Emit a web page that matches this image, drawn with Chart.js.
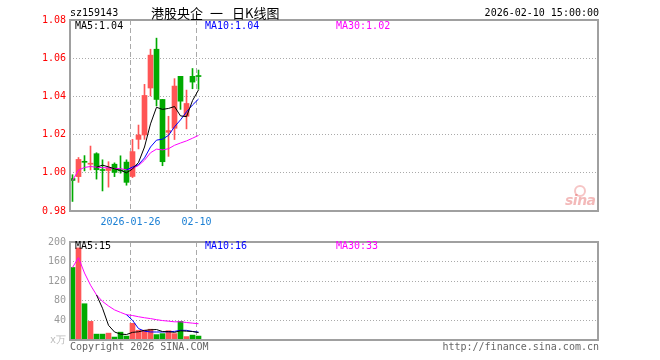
<!DOCTYPE html>
<html>
<head>
<meta charset="utf-8">
<script src="https://cdn.jsdelivr.net/npm/chart.js@4.4.1/dist/chart.umd.min.js"></script>
<style>
  html, body { margin: 0; padding: 0; background: #fff; }
  #wrap { position: relative; width: 660px; height: 360px; overflow: hidden;
          font-family: 'DejaVu Sans Mono', monospace; font-size: 10px; }
  canvas { position: absolute; left: 0; }
  .t { position: absolute; white-space: pre; line-height: 12px; }
  .cjk { position: absolute; white-space: pre; top: 5px; line-height: 16px; font-size: 13px;
         font-family: 'Noto Sans CJK SC'; color: #000; }
</style>
</head>
<body>
<div id="wrap">
  <canvas id="priceChart" width="660" height="232" style="top:0"></canvas>
  <canvas id="volChart" width="660" height="128" style="top:232px"></canvas>

  <div class="t" style="left:70px;top:7px;color:#000">sz159143</div>
  <div class="cjk" style="left:151px">港股央企</div>
  <div class="cjk" style="left:210px">一</div>
  <div class="cjk" style="left:232px">日K线图</div>
  <div class="t" style="right:61px;top:7px;color:#000">2026-02-10 15:00:00</div>

  <div class="t" style="left:75px;top:20px;color:#000">MA5:1.04</div>
  <div class="t" style="left:205px;top:20px;color:#0000ff">MA10:1.04</div>
  <div class="t" style="left:336px;top:20px;color:#ff00ff">MA30:1.02</div>

  <div class="t" style="left:75px;top:240px;color:#000">MA5:15</div>
  <div class="t" style="left:205px;top:240px;color:#0000ff">MA10:16</div>
  <div class="t" style="left:336px;top:240px;color:#ff00ff">MA30:33</div>

  <div class="t" style="left:70px;top:341px;color:#666">Copyright 2026 SINA.COM</div>
  <div class="t" style="right:61px;top:341px;color:#666">http://finance.sina.com.cn</div>

  <div style="position:absolute;left:574px;top:185px;width:8px;height:8px;border:2px solid rgba(230,90,90,0.35);border-radius:50%"></div>
  <div class="t" style="left:565px;top:192px;line-height:14px;font:italic bold 14px 'DejaVu Sans';color:rgba(225,80,80,0.4);letter-spacing:-0.5px">sina</div>
</div>

<script>
// daily candles, 2026-01-12 .. 2026-02-10
const dates = ['2026-01-12', '2026-01-13', '2026-01-14', '2026-01-15', '2026-01-16',
  '2026-01-19', '2026-01-20', '2026-01-21', '2026-01-22', '2026-01-23',
  '2026-01-26', '2026-01-27', '2026-01-28', '2026-01-29', '2026-01-30',
  '2026-02-02', '2026-02-03', '2026-02-04', '2026-02-05', '2026-02-06',
  '2026-02-09', '2026-02-10'];
const opens  = [0.997, 0.998, 1.006, 1.0045, 1.010, 1.0015, 1.0012, 1.0045, 1.0013, 1.0056,
  0.9981, 1.0175, 1.0198, 1.0444, 1.0647, 1.0384, 1.0212, 1.0233, 1.0505, 1.0296, 1.0505, 1.0506];
const closes = [0.996, 1.007, 1.0055, 1.0048, 1.0016, 1.0012, 1.0025, 1.0002, 1.0010, 0.995,
  1.0111, 1.0198, 1.0405, 1.0616, 1.0384, 1.0058, 1.0221, 1.0454, 1.0375, 1.0363, 1.0475, 1.0504];
const highs  = [0.999, 1.008, 1.009, 1.014, 1.0105, 1.0068, 1.0058, 1.0052, 1.0089, 1.0068,
  1.0175, 1.025, 1.0463, 1.0647, 1.0705, 1.0384, 1.0296, 1.0493, 1.0505, 1.0433, 1.0546, 1.0538];
const lows   = [0.985, 0.995, 1.001, 1.0015, 0.9967, 0.9905, 0.9925, 0.998, 0.9998, 0.9935,
  0.9975, 1.0125, 1.0175, 1.0402, 1.035, 1.0037, 1.0086, 1.0174, 1.0332, 1.023, 1.044, 1.0437];

const ma5  = [null, null, null, null, 1.0029, 1.0040, 1.0031, 1.0021, 1.0013, 1.0000,
  1.0020, 1.0054, 1.0135, 1.0256, 1.0343, 1.0332, 1.0337, 1.0347, 1.0298, 1.0294, 1.0378, 1.0434];
const ma10 = [null, null, null, null, null, null, null, null, null, 1.0015,
  1.0030, 1.0043, 1.0078, 1.0135, 1.0171, 1.0176, 1.0196, 1.0241, 1.0277, 1.0319, 1.0355, 1.0386];
const ma30 = [0.996, 1.0014, 1.0028, 1.0033, 1.0029, 1.0027, 1.0026, 1.0023, 1.0022, 1.0015,
  1.0023, 1.0038, 1.0066, 1.0105, 1.0124, 1.0120, 1.0126, 1.0144, 1.0156, 1.0167, 1.0181, 1.0196];

// volume in 万
const volumes = [148, 188, 74, 38, 12, 12, 14, 6, 16, 8, 34, 20, 20, 22, 11, 13, 19, 13, 38, 7, 10, 8];
const volMa5  = [null, null, null, null, 92, 64.8, 30, 16.4, 12, 11.2, 15.6, 16.8, 19.6, 20.8,
  21.4, 17.2, 17, 15.6, 18.8, 18, 17.4, 15.2];
const volMa10 = [null, null, null, null, null, null, null, null, null, 51.6, 40.2, 23.4, 18, 16.4,
  16.3, 16.4, 16.9, 17.6, 19.8, 19.7, 17.3, 16.1];
const volMa30 = [148, 168, 136.7, 112, 92, 78.7, 69.4, 61.5, 56.4, 51.6, 50, 47.5, 45.4, 43.7,
  41.5, 39.7, 38.5, 37.1, 37.2, 35.7, 34.4, 33.2];

const priceTicks = [0.98, 1.00, 1.02, 1.04, 1.06, 1.08];
const volTicks = [0, 40, 80, 120, 160, 200];
const volTickLabels = ['x万', '40', '80', '120', '160', '200'];
const dateTicks = ['2026-01-26', '2026-02-10'];
const dateTickLabels = ['2026-01-26', '02-10'];

const UP = '#ff5555', DOWN = '#00aa00';
const slots = 88;               // the axis has room for 88 days
const xMin = -5 / 12;
const candleColors = closes.map((c, i) => c > opens[i] ? UP : DOWN);
const mono = { family: 'DejaVu Sans Mono', size: 10 };

const frame = {
  id: 'frame',
  afterDraw(chart) {
    const { ctx, chartArea: a } = chart;
    ctx.save();
    ctx.strokeStyle = '#a0a0a0';
    ctx.lineWidth = 2;
    ctx.strokeRect(a.left, a.top, a.right - a.left, a.bottom - a.top);
    ctx.restore();
  }
};

function line(values, color) {
  return {
    type: 'line',
    data: values.map((v, i) => ({ x: i, y: v })).filter(p => p.y !== null),
    borderColor: color,
    borderWidth: 1,
    pointRadius: 0,
    tension: 0,
  };
}

function xScale(showLabels, height) {
  return {
    type: 'linear',
    min: xMin,
    max: xMin + slots,
    offset: false,
    afterBuildTicks: s => { s.ticks = dateTicks.map(d => ({ value: dates.indexOf(d) - 1 / 3 })); },
    afterFit: s => { s.height = height; },
    ticks: {
      display: showLabels,
      autoSkip: false,
      maxRotation: 0,
      padding: 5,
      color: '#1a7fd4',
      font: mono,
      callback: (v, i) => dateTickLabels[i],
    },
    grid: { color: '#aaa', drawTicks: false, offset: false },
    border: { display: false, dash: [5, 3] },
  };
}

function yScale(ticks, labels, color) {
  return {
    type: 'linear',
    min: ticks[0],
    max: ticks[ticks.length - 1],
    afterBuildTicks: s => { s.ticks = ticks.map(v => ({ value: v })); },
    afterFit: s => { s.width = 70; },
    ticks: {
      padding: 4,
      color: color,
      font: mono,
      callback: (v, i) => labels[i],
    },
    grid: {
      drawTicks: false,
      color: c => (c.index === 0 || c.index === ticks.length - 1) ? 'rgba(0,0,0,0)' : '#aaa',
    },
    border: { display: false, dash: [1, 2] },
  };
}

const common = {
  responsive: false,
  animation: false,
  events: [],
  plugins: { legend: { display: false }, tooltip: { enabled: false } },
};

new Chart(document.getElementById('priceChart'), {
  type: 'bar',
  data: {
    datasets: [
      line(ma5, '#000000'),
      line(ma10, '#0000ff'),
      line(ma30, '#ff00ff'),
      {
        data: dates.map((d, i) => ({ x: i, y: [opens[i], closes[i]] })),
        backgroundColor: candleColors,
        barThickness: 5,
        minBarLength: 1,
        grouped: false,
      },
      {
        data: dates.map((d, i) => ({ x: i, y: [lows[i], highs[i]] })),
        backgroundColor: candleColors,
        barThickness: 1,
        grouped: false,
      },
    ],
  },
  options: {
    ...common,
    layout: { padding: { left: 0, right: 62, top: 20, bottom: 0 } },
    scales: {
      x: xScale(true, 21),
      y: yScale(priceTicks, priceTicks.map(v => v.toFixed(2)), '#ff0000'),
    },
  },
  plugins: [frame],
});

new Chart(document.getElementById('volChart'), {
  type: 'bar',
  data: {
    datasets: [
      line(volMa5, '#000000'),
      line(volMa10, '#0000ff'),
      line(volMa30, '#ff00ff'),
      {
        data: volumes.map((v, i) => ({ x: i, y: v })),
        backgroundColor: candleColors,
        barThickness: 5,
        grouped: false,
      },
    ],
  },
  options: {
    ...common,
    layout: { padding: { left: 0, right: 62, top: 8, bottom: 0 } },
    scales: {
      x: xScale(false, 20),
      y: yScale(volTicks, volTickLabels, c => c.index === 0 ? '#bbb' : '#999'),
    },
  },
  plugins: [frame],
});
</script>
</body>
</html>
